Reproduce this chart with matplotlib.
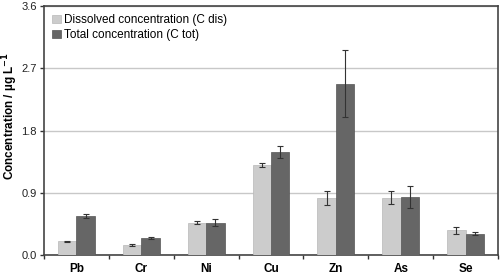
import numpy as np
import matplotlib.pyplot as plt

plt.rcParams['font.family'] = ['Liberation Sans', 'DejaVu Sans']

elements = ['Pb', 'Cr', 'Ni', 'Cu', 'Zn', 'As', 'Se']
c_dis = [0.20, 0.145, 0.47, 1.30, 0.83, 0.83, 0.36]
c_dis_err = [0.01, 0.01, 0.015, 0.03, 0.10, 0.09, 0.05]
c_tot = [0.56, 0.24, 0.47, 1.49, 2.48, 0.84, 0.31]
c_tot_err = [0.03, 0.015, 0.05, 0.08, 0.48, 0.16, 0.02]

x = np.arange(len(elements))
w = 0.285

fig = plt.figure(figsize=(5.0, 2.76), dpi=100)
ax = fig.add_axes([0.088, 0.076, 0.908, 0.902])

ax.bar(x - w/2, c_dis, w, color='#cccccc', edgecolor='#b8b8b8', linewidth=0.5,
       label='Dissolved concentration (C dis)', zorder=3)
ax.bar(x + w/2, c_tot, w, color='#666666', edgecolor='#555555', linewidth=0.5,
       label='Total concentration (C tot)', zorder=3)
ax.errorbar(x - w/2, c_dis, yerr=c_dis_err, fmt='none', ecolor='#333333',
            elinewidth=0.8, capsize=2, capthick=0.8, zorder=4)
ax.errorbar(x + w/2, c_tot, yerr=c_tot_err, fmt='none', ecolor='#333333',
            elinewidth=0.8, capsize=2, capthick=0.8, zorder=4)

ax.set_xlim(-0.5, len(elements) - 0.5)
ax.set_ylim(0, 3.6)
ax.set_yticks([0, 0.9, 1.8, 2.7, 3.6])
ax.set_yticklabels(['0.0', '0.9', '1.8', '2.7', '3.6'], fontsize=8, color='#222222')
ax.yaxis.grid(True, color='#c8c8c8', linewidth=1.0, zorder=0)
ax.set_axisbelow(True)

ax.set_xticks(x)
ax.set_xticklabels(elements, fontsize=8.5, fontweight='bold')
ax.tick_params(axis='x', which='major', length=0, pad=6)
ax.set_xticks(np.arange(-0.5, len(elements)), minor=True)
ax.tick_params(axis='x', which='minor', length=3, width=1, color='#333333')
ax.tick_params(axis='y', length=3, width=1, color='#333333', pad=2)

for s in ax.spines.values():
    s.set_color('#444444')
    s.set_linewidth(1.2)

ax.set_ylabel('Concentration / µg L$^{\\mathbf{-1}}$', fontsize=8.5, fontweight='bold')
ax.yaxis.set_label_coords(-0.053, 0.56)

ax.legend(loc='upper left', frameon=False, fontsize=8.5, handlelength=0.7, handleheight=0.7,
          handletextpad=0.3, labelspacing=0.25, borderaxespad=0.3, bbox_to_anchor=(0.0, 1.0))

fig.savefig('out.png', dpi=100)
